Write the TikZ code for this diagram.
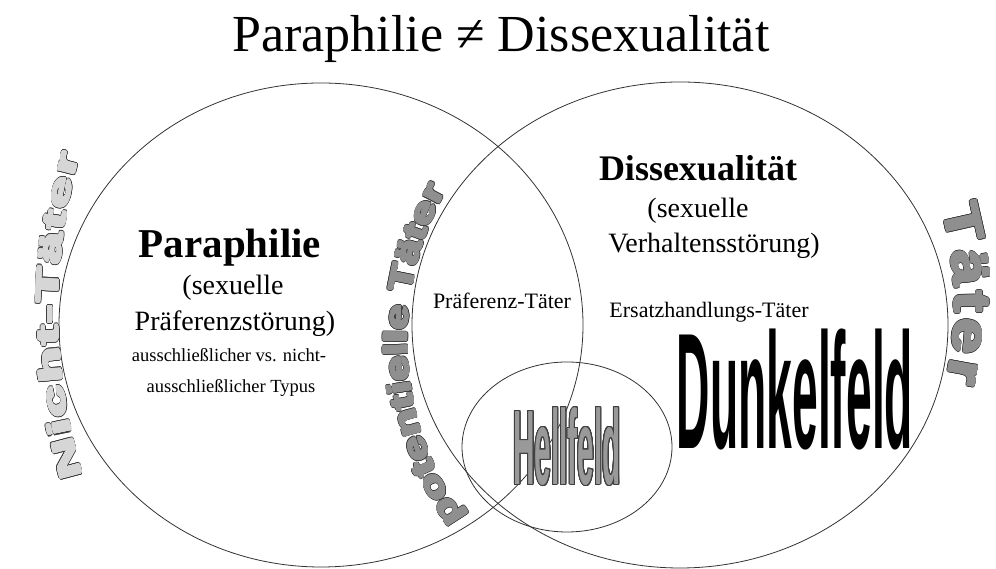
\documentclass[tikz,border=0pt]{standalone}
\usepackage{fontspec}
\setmainfont{Liberation Serif}
\newfontfamily\feldfont{Liberation Sans}[FakeStretch=0.28]
\newfontfamily\bogenfont{Liberation Sans}
\usepackage[copies]{contour}
\contournumber{24}
\contourlength{0.5pt}
\definecolor{hellgrau}{gray}{0.84}
\definecolor{mittelgrau}{gray}{0.56}
\definecolor{umriss}{gray}{0.25}
% dicker Buchstabe: dunkler Rand, darueber verbreiterte Fuellung
\newcommand{\umrisszeichen}[1]{\rlap{\contourlength{1.5pt}\contour{umriss}{#1}}\contourlength{0.9pt}\contour{.}{#1}}
% Buchstaben einzeln auf einen Ellipsenbogen setzen (im Uhrzeigersinn)
\newcommand{\bogentext}[7]{%
	\xdef\bogenwink{#2}%
	\foreach \zch/\zbr [count=\i] in {#7} {%
		\pgfmathsetmacro\bogenk{sqrt((#3/100*sin(\bogenwink))^2+(#4/100*cos(\bogenwink))^2)*100*pi/180}%
		\pgfmathsetmacro\bogenmitte{\bogenwink-\zbr*#5/2/\bogenk}%
		\pgfmathsetmacro\bogendreh{atan2(-#4*cos(\bogenmitte),#3*sin(\bogenmitte))}%
		\node (#1\i) [Zeichen, rotate=\bogendreh, #6] at (\bogenmitte:#3 and #4) {\umrisszeichen{\zch}};%
		\pgfmathsetmacro\bogenneu{\bogenwink-\zbr*#5/\bogenk}%
		\xdef\bogenwink{\bogenneu}%
	}%
}

\begin{document}
\begin{tikzpicture}[x=1pt, y=1pt]
	\tikzstyle{Kreis} = [draw=black!80, line width=0.8pt]
	\tikzstyle{Gross} = [anchor=base, font=\fontsize{28}{30}\selectfont]
	\tikzstyle{Klein} = [anchor=base, font=\fontsize{18.5}{20}\selectfont]
	\tikzstyle{Fett} = [anchor=base, font=\fontsize{36}{38}\selectfont\bfseries]
	\tikzstyle{Zeichen} = [anchor=base, inner sep=0pt, outer sep=0pt]
	
	\useasboundingbox (0,0) rectangle (996,569);
	
	% Kreise
	\coordinate (lk) at (321,244);
	\coordinate (rk) at (680,244);
	\coordinate (hk) at (567,122);
	\draw [Kreis] (lk) ellipse [x radius=262, y radius=242];
	\draw [Kreis] (rk) ellipse [x radius=268, y radius=243];
	\draw [Kreis] (hk) ellipse [x radius=105, y radius=85];
	
	\node (titel) [anchor=base, font=\fontsize{52}{54}\selectfont] at (501,517) {Paraphilie ≠ Dissexualität};
	
	% linker Kreis
	\node (para) [Fett, font=\fontsize{41}{43}\selectfont\bfseries] at (230,311) {Paraphilie};
	\node (sex1) [Gross] at (233,274) {(sexuelle};
	\node (praef) [Gross] at (235,238) {Präferenzstörung)};
	\node (typ1) [Klein] at (229,207) {ausschließlicher vs. nicht-};
	\node (typ2) [Klein] at (231,176) {ausschließlicher Typus};
	
	% rechter Kreis
	\node (diss) [Fett] at (698,388) {Dissexualität};
	\node (sex2) [Gross] at (698,351) {(sexuelle};
	\node (verh) [Gross] at (714,316) {Verhaltensstörung)};
	\node (ersatz) [Klein, font=\fontsize{22}{24}\selectfont] at (709,251) {Ersatzhandlungs-Täter};
	\node (ptaeter) [Klein, font=\fontsize{22}{24}\selectfont] at (502,260) {Präferenz-Täter};
	
	\node (dunkel) [font=\feldfont\bfseries\fontsize{165}{165}\selectfont] at (795,179) {Dunkelfeld};
	\node (hell) [text=gray!80, font=\feldfont\bfseries\fontsize{106}{106}\selectfont] at (hk) {\contourlength{0.9pt}\contour{umriss}{Hellfeld}};
	
	% Bogentexte
	\begin{scope}[shift={(630,259)}]
		\bogentext{nicht}{197}{572}{572}{62}{xscale=1.85, text=hellgrau, font=\bogenfont\bfseries\fontsize{31}{31}\selectfont}
			{N/0.722, i/0.278, c/0.556, h/0.611, t/0.333, -/0.333, T/0.611, ä/0.556, t/0.333, e/0.556, r/0.389}
	\end{scope}
	\begin{scope}[shift={(714,229)}]
		\bogentext{pot}{215.5}{307}{307}{44.9}{xscale=1.4, text=mittelgrau, font=\bogenfont\bfseries\fontsize{32}{32}\selectfont}
			{p/0.611, o/0.611, t/0.333, e/0.556, n/0.611, t/0.333, i/0.278, e/0.556, l/0.278, l/0.278, e/0.556, {}/0.278, T/0.611, ä/0.556, t/0.333, e/0.556, r/0.389}
	\end{scope}
	\begin{scope}[shift={(600,264)}]
		\bogentext{taeter}{16.4}{355}{355}{74}{xscale=1.25, text=mittelgrau, font=\bogenfont\bfseries\fontsize{51}{51}\selectfont}
			{T/0.611, ä/0.556, t/0.333, e/0.556, r/0.389}
	\end{scope}
\end{tikzpicture}
\end{document}
